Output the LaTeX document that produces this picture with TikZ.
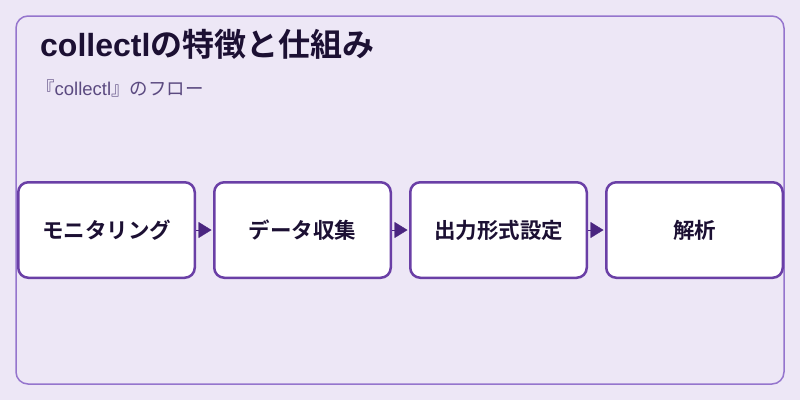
\documentclass[tikz,border=0pt]{standalone}
\usepackage{fontspec}
\setmainfont{Liberation Sans}
\newfontfamily\jp{Noto Sans CJK JP}[BoldFont={Noto Sans CJK JP Bold}]
\usetikzlibrary{arrows.meta}
\usetikzlibrary{positioning}

\definecolor{bgcol}{HTML}{EDE7F6}
\definecolor{framecol}{HTML}{9575CD}
\definecolor{boxline}{HTML}{6A3FA6}
\definecolor{arrowcol}{HTML}{4A2580}
\definecolor{ink}{HTML}{1C1033}
\definecolor{subink}{HTML}{5B4A80}

\begin{document}
\begin{tikzpicture}[x=1pt,y=-1pt,
    stepbox/.style={draw=boxline, line width=2.5pt, fill=white, rounded corners=10pt,
        minimum width=176.5pt, minimum height=95.5pt, text=ink,
        font=\jp\bfseries\fontsize{21.5}{24}\selectfont},
    flowarrow/.style={arrowcol, line width=0.4pt, -{Triangle[length=13pt,width=16pt]}, shorten >=1.5pt},
]
    \fill [bgcol] (0,0) rectangle (800,400);
    \useasboundingbox (0,0) rectangle (800,400);
    \draw [framecol, line width=1.5pt, rounded corners=12pt] (16,16) rectangle (784,384);

    \node [anchor=base west, inner sep=0pt, text=ink, font=\bfseries\fontsize{32}{36}\selectfont] (title) at (40,56) {collectl{\jp の特徴と仕組み}};
    \node [anchor=base west, inner sep=0pt, text=subink, font=\fontsize{18.5}{22}\selectfont] (subtitle) at (36,95) {{\jp 『}collectl{\jp 』のフロー}};

    % 四つの手順を横に並べる
    \foreach \t [count=\n, evaluate=\n as \x using 106.5+196*(\n-1)] in {モニタリング,データ収集,出力形式設定,解析}{
        \node [stepbox] (s\n) at (\x,230) {\t};
    }
    \foreach \a/\b in {1/2,2/3,3/4}{
        \draw [flowarrow] (s\a) -- (s\b);
    }
\end{tikzpicture}
\end{document}
